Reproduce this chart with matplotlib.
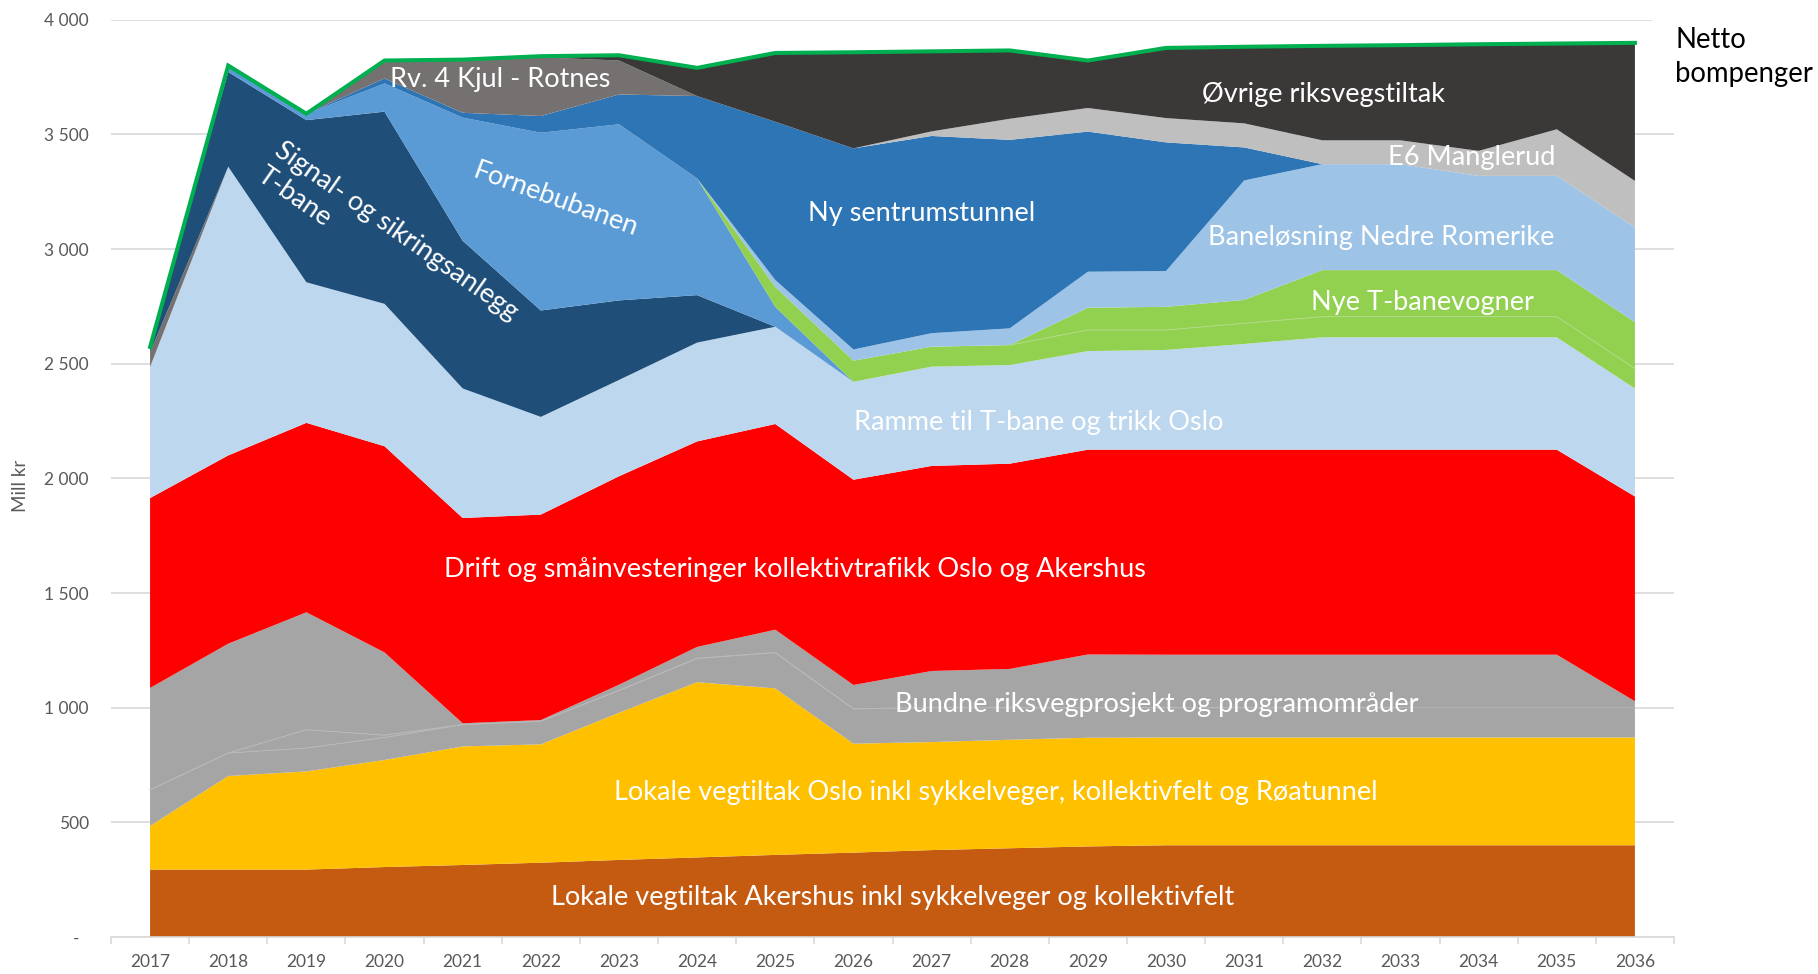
import numpy as np
import matplotlib
matplotlib.use('Agg')
import matplotlib.pyplot as plt
from matplotlib.patches import Rectangle
from matplotlib.ticker import FuncFormatter

# stacked area chart: bompenger-bruk per formål, mill kr per år
plt.rcParams['font.family'] = ['Lato', 'DejaVu Sans']

years = list(range(2017, 2037))

# series from bottom to top of the stack (mill kr)
akershus = [294, 294, 294, 305, 314, 324, 336, 347, 358, 368, 379, 387, 395, 400, 400, 400, 400, 400, 400, 400]
oslo = [190, 408, 428, 467, 517, 516, 642, 764, 726, 475, 471, 473, 474, 470, 470, 470, 470, 470, 470, 470]
bundne_a = [158, 100, 102, 98, 95, 101, 97, 104, 156, 152, 150, 140, 131, 130, 130, 130, 130, 130, 130, 130]
bundne_b = [0, 0, 80, 10, 0, 0, 0, 0, 0, 0, 0, 0, 0, 0, 0, 0, 0, 0, 0, 0]
bundne_c = [444, 477, 512, 361, 6, 5, 25, 50, 100, 104, 160, 169, 232, 231, 231, 231, 231, 231, 231, 28]
drift = [828, 821, 826, 899, 895, 896, 909, 896, 897, 895, 894, 895, 893, 894, 894, 894, 894, 894, 894, 893]
ramme = [572, 1259, 613, 621, 565, 426, 420, 431, 424, 427, 433, 430, 430, 435, 461, 490, 490, 490, 490, 471]
annet = [64, 0, 0, 0, 0, 0, 0, 0, 0, 0, 0, 0, 0, 0, 0, 0, 0, 0, 0, 0]
signal = [23, 413, 707, 838, 644, 464, 347, 207, 0, 0, 0, 0, 0, 0, 0, 0, 0, 0, 0, 0]
fornebu = [0, 28, 28, 123, 537, 775, 768, 509, 87, 0, 0, 0, 0, 0, 0, 0, 0, 0, 0, 0]
vogner_a = [0, 0, 0, 0, 0, 0, 0, 0, 87, 92, 87, 87, 92, 87, 90, 90, 90, 90, 90, 86]
vogner_b = [0, 0, 0, 0, 0, 0, 0, 0, 0, 0, 0, 0, 97, 101, 102, 203, 203, 203, 203, 203]
banelosning = [0, 0, 0, 0, 0, 0, 0, 0, 30, 49, 59, 73, 157, 156, 521, 462, 462, 411, 411, 413]
sentrum = [0, 0, 0, 22, 21, 73, 130, 359, 690, 877, 860, 822, 611, 561, 144, 0, 0, 0, 0, 0]
e6 = [0, 0, 0, 0, 0, 0, 0, 0, 0, 0, 20, 92, 103, 106, 105, 104, 104, 109, 203, 203]
rv4 = [0, 0, 0, 78, 232, 256, 148, 0, 0, 0, 0, 0, 0, 0, 0, 0, 0, 0, 0, 0]
ovrige = [0, 0, 0, 0, 0, 5, 23, 123, 300, 419, 349, 298, 207, 306, 334, 412, 415, 465, 374, 602]

series = [akershus, oslo, bundne_a, bundne_b, bundne_c, drift, ramme, annet, signal,
          fornebu, vogner_a, vogner_b, banelosning, sentrum, e6, rv4, ovrige]
colors = ['#C55A11', '#FFC000', '#A5A5A5', '#A5A5A5', '#A5A5A5', '#FF0000', '#BDD7EE',
          '#767171', '#1F4E79', '#5B9BD5', '#92D050', '#92D050', '#9DC3E6', '#2E75B6',
          '#BFBFBF', '#767171', '#3B3838']

fig = plt.figure(figsize=(18.18, 9.74), dpi=100)
ax = fig.add_axes([111 / 1818, 37 / 974, (1674 - 111) / 1818, (937 - 19.7) / 974])

ax.stackplot(years, *series, colors=colors, linewidth=0, zorder=2)

cum = np.cumsum(np.array(series), axis=0)
# faint borders inside the grey and green groups
ax.plot(years[:17], cum[2][:17], color='#B8B8B8', lw=0.7, zorder=3)
ax.plot(years[:17], cum[3][:17], color='#B8B8B8', lw=0.7, zorder=3)
ax.plot(years[11:], cum[10][11:], color='#B0DA86', lw=0.7, zorder=3)

# Netto bompenger = sum of everything
ax.plot(years, cum[-1], color='#00B050', lw=2.9, zorder=4, solid_joinstyle='miter')

ax.set_xlim(2016.5, 2036.5)
ax.set_ylim(0, 4000)
ax.set_yticks(range(0, 4001, 500))
ax.yaxis.set_major_formatter(FuncFormatter(
    lambda v, p: '-  ' if v == 0 else f'{int(v):,}'.replace(',', ' ')))
ax.set_xticks(years)
ax.set_xticklabels([str(y) for y in years])
ax.set_xticks(np.arange(2016.5, 2037, 1.0), minor=True)

ax.yaxis.grid(True, color='#D9D9D9', lw=1.2, zorder=0)
ax.set_axisbelow(True)
for s in ['top', 'right', 'left']:
    ax.spines[s].set_visible(False)
ax.spines['bottom'].set_color('#D9D9D9')
ax.spines['bottom'].set_linewidth(1.2)
ax.tick_params(axis='y', length=0, pad=16, labelsize=12.5, labelcolor='#595959')
ax.tick_params(axis='x', which='major', length=0, pad=12, labelsize=12.5, labelcolor='#595959')
ax.tick_params(axis='x', which='minor', length=5, width=1.2, color='#D9D9D9')

fig.text(20 / 1818, 1 - 486 / 974, 'Mill kr', rotation=90, ha='center', va='center',
         fontsize=13.5, color='#595959')

# white box of the series name covers the end of the top gridline
fig.add_artist(Rectangle((1652 / 1818, 1 - 100 / 974), 166 / 1818, 100 / 974,
                         transform=fig.transFigure, facecolor='white', edgecolor='none', zorder=5))
fig.text(1675 / 1818, 1 - 48 / 974, 'Netto', ha='left', va='baseline', fontsize=19.8, color='black', zorder=6)
fig.text(1675 / 1818, 1 - 82 / 974, 'bompenger', ha='left', va='baseline', fontsize=19.8, color='black', zorder=6)

fs = 19.5
lab = dict(color='white', fontsize=fs, ha='center', va='center', zorder=6)
ax.text(2021.48, 3741, 'Rv. 4 Kjul - Rotnes', **lab)
ax.text(2032.01, 3676, 'Øvrige riksvegstiltak', **lab)
ax.text(2033.91, 3401, 'E6 Manglerud', **lab)
ax.text(2026.87, 3153, 'Ny sentrumstunnel', **lab)
ax.text(2032.75, 3049, 'Baneløsning Nedre Romerike', **lab)
ax.text(2033.28, 2767, 'Nye T-banevogner', **lab)
ax.text(2028.37, 2244, 'Ramme til T-bane og trikk Oslo', **lab)
ax.text(2025.25, 1603, 'Drift og småinvesteringer kollektivtrafikk Oslo og Akershus', **lab)
ax.text(2029.88, 1012, 'Bundne riksvegprosjekt og programområder', **lab)
ax.text(2027.82, 628, 'Lokale vegtiltak Oslo inkl sykkelveger, kollektivfelt og Røatunnel', **lab)
ax.text(2026.50, 173, 'Lokale vegtiltak Akershus inkl sykkelveger og kollektivfelt', **lab)
ax.text(2022.19, 3214, 'Fornebubanen', rotation=-20, rotation_mode='anchor',
        color='white', fontsize=fs, ha='center', va='center', zorder=6)
ax.text(2018.72, 3485, 'Signal- og sikringsanlegg\nT-bane', rotation=-35, rotation_mode='anchor',
        color='white', fontsize=fs, ha='left', va='top', multialignment='left',
        linespacing=1.25, zorder=6)

fig.savefig('out.png', dpi=100)
